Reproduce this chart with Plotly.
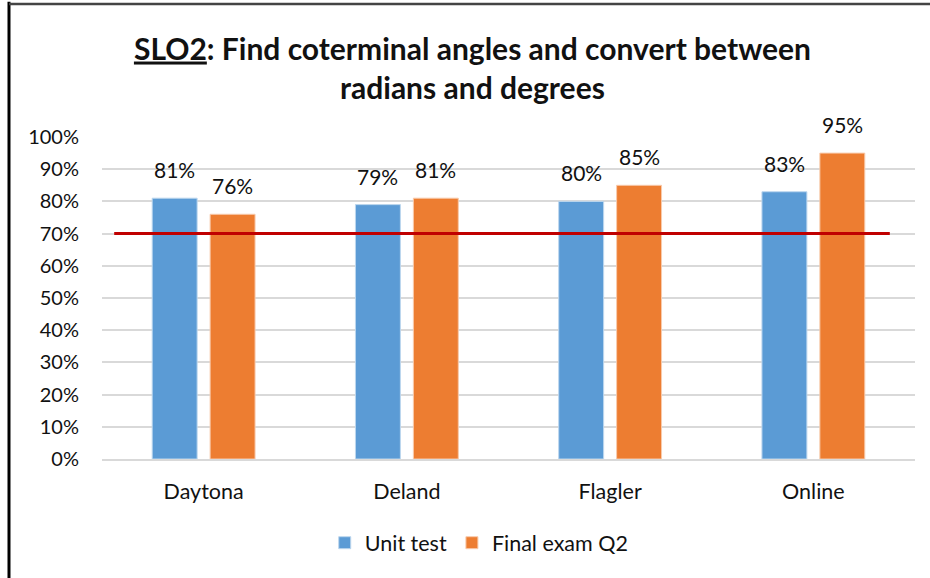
import plotly.graph_objects as go

campuses = ["Daytona", "Deland", "Flagler", "Online"]
unit_test = [0.81, 0.79, 0.80, 0.83]
final_q2 = [0.76, 0.81, 0.85, 0.95]
target = 0.70
y_ticks = [0, 0.1, 0.2, 0.3, 0.4, 0.5, 0.6, 0.7, 0.8, 0.9, 1.0]

blue = "#5B9BD5"
orange = "#ED7D31"
font = "Lato"
ink = "#111"

fig = go.Figure()
fig.add_trace(go.Bar(x=campuses, y=unit_test, name="Unit test",
                     marker=dict(color=blue, line=dict(color="#BDD7EE", width=1))))
fig.add_trace(go.Bar(x=campuses, y=final_q2, name="Final exam Q2",
                     marker=dict(color=orange, line=dict(color="#F8CBAD", width=1))))

# value labels above bars
for vals, shift in [(unit_test, -29), (final_q2, 29)]:
    for c, v in zip(campuses, vals):
        fig.add_annotation(x=c, y=v, text=f"{round(v*100)}%", showarrow=False,
                           xshift=shift, yshift=14, yanchor="bottom",
                           font=dict(family=font, size=21, color=ink))

# target line
fig.add_shape(type="line", xref="paper", yref="y", x0=0.015, x1=0.969,
              y0=target, y1=target, line=dict(color="#C00000", width=3))

# frame edges (left and top)
fig.add_shape(type="line", xref="paper", yref="paper", x0=-0.1144, x1=-0.1144,
              y0=-0.37, y1=1.42, line=dict(color="black", width=3))
fig.add_shape(type="line", xref="paper", yref="paper", x0=-0.1144, x1=1.02,
              y0=1.413, y1=1.413, line=dict(color="#444", width=2.5))

fig.update_layout(
    width=930, height=578,
    margin=dict(l=102, r=15, t=137, b=119),
    paper_bgcolor="white", plot_bgcolor="white",
    barmode="group", bargap=0.43, bargroupgap=0.224,
    title=dict(text="<b><u>SLO2</u>: Find coterminal angles and convert between<br>radians and degrees</b>",
               x=0.508, xanchor="center", y=0.897, yanchor="middle",
               font=dict(family=font, size=30, color=ink)),
    font=dict(family=font, size=20, color=ink),
    legend=dict(orientation="h", x=0.464, xanchor="center", y=-0.26, yanchor="middle",
                font=dict(family=font, size=21.5, color=ink), traceorder="normal"),
    xaxis=dict(showline=True, linecolor="#d9d9d9", linewidth=1.5,
               tickfont=dict(size=21.5), ticks=""),
    yaxis=dict(range=[0, 1], tickvals=y_ticks, tickformat=".0%",
               gridcolor="#d9d9d9", gridwidth=1.5, zeroline=False,
               tickfont=dict(size=20), ticks="", ticklen=0),
)
fig.update_yaxes(ticklabelstandoff=22)
fig.update_xaxes(ticklabelstandoff=12)

fig.write_html("out.html", config={"displayModeBar": False},
               post_script="document.body.style.margin='0';")
